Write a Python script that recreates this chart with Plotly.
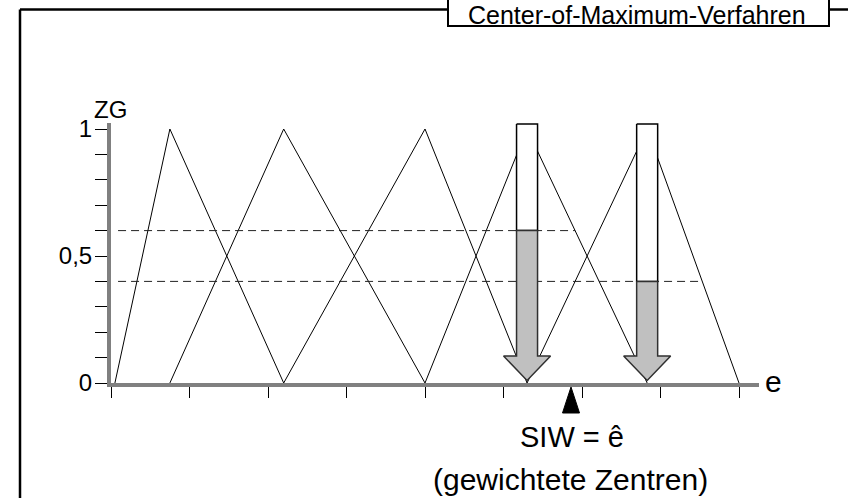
import plotly.graph_objects as go

# ---------------- data ----------------
tri_left = [0.05, 0.75, 2.2, 4.0, 5.3]
tri_peak = [0.75, 2.2, 4.0, 5.3, 6.83]
tri_right = [2.2, 4.0, 5.3, 6.83, 8.0]
tri_height = [1.0, 1.0, 1.0, 1.0, 1.0]
active_sets = [3, 4]            # fuzzy sets that fire
memberships = [0.6, 0.4]        # degree of membership of the firing sets
siw_value = 5.86                # resulting crisp value (weighted centres)
x_ticks = [0, 1, 2, 3, 4, 5, 6, 7, 8]
y_ticks = [0, 0.5, 1]
y_tick_labels = ["0", "0,5", "1"]
y_minor_step = 0.1
title_text = "Center-of-Maximum-Verfahren"
y_title = "ZG"
x_title = "e"
siw_label = "SIW = ê"
siw_sub = "(gewichtete Zentren)"

# ---------------- geometry / style ----------------
W, H = 848, 498
X0PX, UPX = 111, 78.5      # pixel of x=0, pixels per x unit
Y0PX, VPX = 383, 254       # pixel of y=0, pixels per y unit
AX_END_PX = 759            # right end of visible x axis
AY_END_PX = 123            # top end of visible y axis
FONT = "Liberation Sans, Arial, sans-serif"

def px2u(px):
    return (px - X0PX) / UPX

def py2v(py):
    return (Y0PX - py) / VPX

full_xr = [px2u(0), px2u(W)]
full_yr = [py2v(H), py2v(0)]

fig = go.Figure()

# triangles (membership functions)
for l, p, r, h in zip(tri_left, tri_peak, tri_right, tri_height):
    fig.add_trace(go.Scatter(x=[l, p, r], y=[0, h, 0], mode="lines",
                             line=dict(color="black", width=1),
                             hoverinfo="skip", showlegend=False))

# dashed membership levels, from the y axis to the cut of the right flank
dash_start = 0.09
for idx, mu in zip(active_sets, memberships):
    end = tri_peak[idx] + (1 - mu) * (tri_right[idx] - tri_peak[idx])
    fig.add_trace(go.Scatter(x=[dash_start, end], y=[mu, mu], mode="lines",
                             line=dict(color="#222222", width=1, dash="8px,5px"),
                             hoverinfo="skip", showlegend=False))

# arrows
shaft_hw = 10.5 / UPX
head_hw = 23.5 / UPX
arrow_top = 1.02
head_base = py2v(356)
tip = py2v(380.5)
for idx, mu in zip(active_sets, memberships):
    c = tri_peak[idx]
    fig.add_trace(go.Scatter(
        x=[c - shaft_hw, c + shaft_hw, c + shaft_hw, c - shaft_hw, c - shaft_hw],
        y=[arrow_top, arrow_top, mu, mu, arrow_top],
        mode="lines", fill="toself", fillcolor="white",
        line=dict(color="black", width=1.5), hoverinfo="skip", showlegend=False))
    fig.add_trace(go.Scatter(
        x=[c - shaft_hw, c + shaft_hw, c + shaft_hw, c + head_hw, c,
           c - head_hw, c - shaft_hw, c - shaft_hw],
        y=[mu, mu, head_base, head_base, tip, head_base, head_base, mu],
        mode="lines", fill="toself", fillcolor="#c0c0c0",
        line=dict(color="#303030", width=1.5), hoverinfo="skip", showlegend=False))

# SIW marker (black triangle below the axis)
m_hw = 8.5 / UPX
m_top = py2v(387)
m_bot = py2v(413)
fig.add_trace(go.Scatter(
    x=[siw_value - m_hw, siw_value + m_hw, siw_value, siw_value - m_hw],
    y=[m_bot, m_bot, m_top, m_bot], mode="lines", fill="toself",
    fillcolor="black", line=dict(color="black", width=1),
    hoverinfo="skip", showlegend=False))

# dummy trace to create the visible axis pair
fig.add_trace(go.Scatter(x=[None], y=[None], xaxis="x2", yaxis="y2",
                         mode="markers", showlegend=False, hoverinfo="skip"))

fig.update_layout(
    width=W, height=H, autosize=False,
    margin=dict(l=0, r=0, t=0, b=0, pad=0),
    paper_bgcolor="white", plot_bgcolor="rgba(0,0,0,0)",
    showlegend=False,
    xaxis=dict(domain=[0, 1], range=full_xr, visible=False, fixedrange=True),
    yaxis=dict(domain=[0, 1], range=full_yr, visible=False, fixedrange=True),
    xaxis2=dict(domain=[X0PX / W, AX_END_PX / W], range=[0, px2u(AX_END_PX)],
                anchor="y2", showline=True, linecolor="#808080", linewidth=4,
                showgrid=False, zeroline=False, tickmode="array",
                tickvals=x_ticks, ticks="outside", ticklen=11, tickwidth=1,
                tickcolor="black", showticklabels=False, fixedrange=True,
                automargin=False),
    yaxis2=dict(domain=[(H - Y0PX) / H, (H - AY_END_PX) / H],
                range=[0, py2v(AY_END_PX)], anchor="x2",
                showline=True, linecolor="#808080", linewidth=4,
                showgrid=False, zeroline=False, tickmode="array",
                tickvals=y_ticks, ticktext=y_tick_labels,
                ticks="outside", ticklen=12, tickwidth=1, tickcolor="black",
                minor=dict(dtick=y_minor_step, ticks="outside", ticklen=12,
                           tickwidth=1, tickcolor="black", showgrid=False),
                tickfont=dict(family=FONT, size=24, color="black"),
                ticklabelstandoff=-2, fixedrange=True, automargin=False),
    font=dict(family=FONT, color="black"),
)

# frame lines and title box
fig.add_shape(type="line", xref="paper", yref="paper",
              x0=20 / W, x1=1, y0=1 - 9.5 / H, y1=1 - 9.5 / H,
              line=dict(color="black", width=2.5))
fig.add_shape(type="line", xref="paper", yref="paper",
              x0=20 / W, x1=20 / W, y0=-0.02, y1=1 - 9.5 / H,
              line=dict(color="black", width=2.5))
fig.add_shape(type="rect", xref="paper", yref="paper",
              x0=448 / W, x1=829 / W, y0=1 - 26 / H, y1=1.05,
              fillcolor="white", line=dict(color="black", width=2))

fig.add_annotation(text=title_text, xref="paper", yref="paper",
                   x=637 / W, y=1, xanchor="center", yanchor="top",
                   borderpad=0,
                   showarrow=False, font=dict(family=FONT, size=25, color="black"))
fig.add_annotation(text=y_title, x=px2u(110), y=py2v(109), xanchor="center",
                   yanchor="middle", showarrow=False,
                   font=dict(family=FONT, size=24, color="black"))
fig.add_annotation(text=x_title, x=px2u(773), y=py2v(381), xanchor="center",
                   yanchor="middle", showarrow=False,
                   font=dict(family=FONT, size=30, color="black"))
fig.add_annotation(text=siw_label, x=px2u(572), y=py2v(437), xanchor="center",
                   yanchor="middle", showarrow=False,
                   font=dict(family=FONT, size=29, color="black"))
fig.add_annotation(text=siw_sub, x=px2u(570), y=py2v(479), xanchor="center",
                   yanchor="middle", showarrow=False,
                   font=dict(family=FONT, size=30, color="black"))

fig.write_html("out.html",
               config={"responsive": False, "displayModeBar": False},
               post_script="document.body.style.margin='0';"
                           "document.body.style.overflow='hidden';")
